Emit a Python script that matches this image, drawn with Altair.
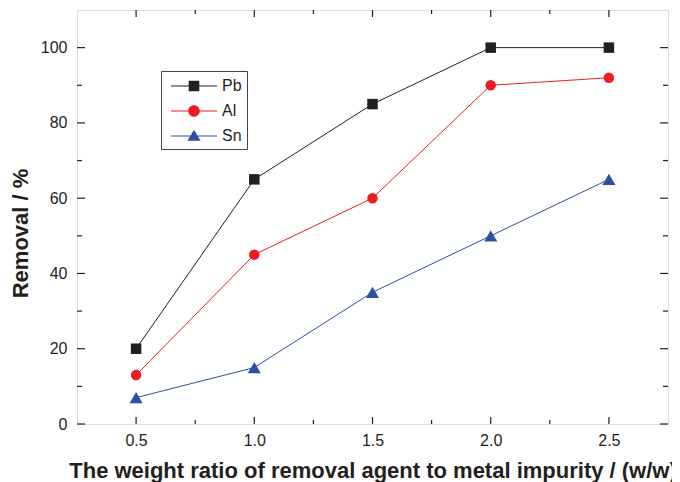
import altair as alt
import pandas as pd

ratio = [0.5, 1.0, 1.5, 2.0, 2.5]
pb = [20, 65, 85, 100, 100]
al = [13, 45, 60, 90, 92]
sn = [7, 15, 35, 50, 65]

series_names = ["Pb", "Al", "Sn"]
series_colors = ["#231f20", "#ed1c24", "#2e4ea2"]
series_shapes = ["square", "circle", "triangle-up"]
series_sizes = [110, 110, 170]

x_major = [0.5, 1.0, 1.5, 2.0, 2.5]
x_minor = [0.75, 1.25, 1.75, 2.25]
y_major = [0, 20, 40, 60, 80, 100]
y_minor = [10, 30, 50, 70, 90]

rows = []
for name, vals in zip(series_names, [pb, al, sn]):
    for r, v in zip(ratio, vals):
        rows.append({"x": r, "y": v, "series": name})
df = pd.DataFrame(rows)

W, H = 591, 414
FONT = "Liberation Sans"
INK = "#231f20"

xscale = alt.Scale(domain=[0.25, 2.75], nice=False, zero=False)
yscale = alt.Scale(domain=[0, 110], nice=False)
cscale = alt.Scale(domain=series_names, range=series_colors)

xaxis = alt.Axis(
    values=x_major, format=".1f", ticks=False, tickSize=0, domain=False, grid=False,
    labelFont=FONT, labelFontSize=16, labelColor=INK, labelPadding=8,
    title="The weight ratio of removal agent to metal impurity  / (w/w)",
    titleFont=FONT, titleFontSize=22, titleFontWeight="bold", titleColor=INK,
    titleX=295.5, titleY=53, titleBaseline="alphabetic", titleAlign="center",
)
yaxis = alt.Axis(
    values=y_major, ticks=False, tickSize=0, domain=False, grid=False,
    labelFont=FONT, labelFontSize=16, labelColor=INK, labelPadding=10,
    title="Removal / %",
    titleFont=FONT, titleFontSize=22, titleFontWeight="bold", titleColor=INK,
    titleX=-50, titleY=223, titleBaseline="alphabetic", titleAlign="center", titleAngle=270,
)

series_layers = []
for i, (name, col, shp, sz) in enumerate(zip(series_names, series_colors, series_shapes, series_sizes)):
    base = alt.Chart(df).transform_filter(f"datum.series === '{name}'")
    if i == 0:
        xenc = alt.X("x:Q", scale=xscale, axis=xaxis)
        yenc = alt.Y("y:Q", scale=yscale, axis=yaxis)
    else:
        xenc = alt.X("x:Q", scale=xscale)
        yenc = alt.Y("y:Q", scale=yscale)
    series_layers.append(base.mark_line(strokeWidth=1, color=col).encode(x=xenc, y=yenc))
    series_layers.append(
        base.mark_point(filled=True, opacity=1, strokeWidth=0, shape=shp, size=sz, color=col).encode(
            x=alt.X("x:Q", scale=xscale), y=alt.Y("y:Q", scale=yscale)
        )
    )

xmaj = pd.DataFrame({"x": x_major})
xmin = pd.DataFrame({"x": x_minor})
ymaj = pd.DataFrame({"y": y_major})
ymin = pd.DataFrame({"y": y_minor})

def xticks(d, length):
    bottom = alt.Chart(d).mark_rule(color=INK, strokeWidth=1.2).encode(
        x=alt.X("x:Q", scale=xscale), y=alt.value(H), y2=alt.value(H - length))
    top = alt.Chart(d).mark_rule(color=INK, strokeWidth=1.2).encode(
        x=alt.X("x:Q", scale=xscale), y=alt.value(0), y2=alt.value(length))
    return [bottom, top]

def yticks(d, length):
    left = alt.Chart(d).mark_rule(color=INK, strokeWidth=1.2).encode(
        y=alt.Y("y:Q", scale=yscale), x=alt.value(0), x2=alt.value(length))
    right = alt.Chart(d).mark_rule(color=INK, strokeWidth=1.2).encode(
        y=alt.Y("y:Q", scale=yscale), x=alt.value(W), x2=alt.value(W - length))
    return [left, right]

tick_layers = xticks(xmaj, 7) + xticks(xmin, 4) + yticks(ymaj, 8) + yticks(ymin, 5)

# legend symbols: thin filled bar (the line) + marker, as custom paths
# (unit = 10 px for symbolSize 400)
bar = "M-2.3,-0.045H2.3V0.045H-2.3Z"
p_pb = bar + "M-0.53,-0.53H0.53V0.53H-0.53Z"
p_al = bar + "M-0.58,0A0.58,0.58,0,1,1,0.58,0A0.58,0.58,0,1,1,-0.58,0Z"
p_sn = bar + "M0,-0.62L0.66,0.48H-0.66Z"

legend = alt.Legend(
    title=None, orient="none", legendX=84, legendY=61,
    padding=5, strokeColor="#444444", fillColor="white",
    labelFont=FONT, labelFontSize=16, labelColor=INK,
    symbolSize=400, symbolOffset=18, labelOffset=18,
    symbolStrokeWidth=0, symbolOpacity=1, rowPadding=7,
)

leg_df = pd.DataFrame({"series": series_names})
leg_layer = alt.Chart(leg_df).mark_point(
    filled=True, opacity=1, strokeWidth=0, size=0
).encode(
    color=alt.Color("series:N", scale=cscale, legend=legend),
    shape=alt.Shape("series:N", scale=alt.Scale(domain=series_names, range=[p_pb, p_al, p_sn]), legend=legend),
)

chart = alt.layer(*series_layers, *tick_layers, leg_layer).properties(
    width=W, height=H,
    autosize=alt.AutoSizeParams(type="none"),
    padding={"left": 69, "top": 2, "right": 4, "bottom": 58},
).configure_view(stroke=INK, strokeWidth=1.5).configure(background="white")

chart.save("out.html", embed_options={"renderer": "svg", "actions": False})
